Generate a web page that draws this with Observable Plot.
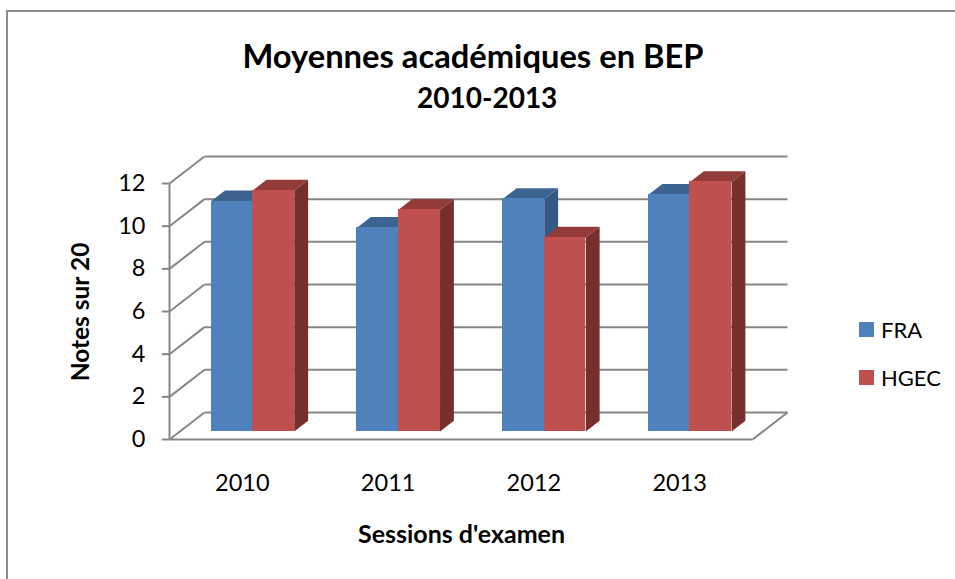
<!DOCTYPE html>
<html lang="fr">
<head>
<meta charset="utf-8">
<script src="https://cdn.jsdelivr.net/npm/d3@7"></script>
<script src="https://cdn.jsdelivr.net/npm/@observablehq/plot@0.6"></script>
<style>
  html, body { margin: 0; padding: 0; background: #fff; }
  body { font-family: Lato, "Open Sans", sans-serif; color: #000; }
  #page { position: relative; width: 955px; height: 579px; overflow: hidden; }
  #frame { position: absolute; left: 6px; top: 10px; right: -5px; bottom: -5px;
           border-left: 2px solid #8c8c8c; border-top: 2px solid #8c8c8c; }
  #head { position: relative; height: 130px; width: 946px; font-weight: 700; }
  #title { position: absolute; left: 0; right: 0; text-align: center; top: 35px; font-size: 32.7px; line-height: 42px; }
  #subtitle { position: absolute; left: 417px; top: 81px; font-size: 28px; line-height: 32px; }
  #legend { position: absolute; left: 859px; top: 316px; font-size: 22px; }
  #legend div { display: flex; align-items: center; height: 26px; margin-bottom: 22px; }
  #legend i { display: block; width: 15px; height: 15px; margin-right: 7px; }
  svg { display: block; position: relative; background: transparent !important; }
</style>
</head>
<body>
<div id="page">
  <div id="frame"></div>
  <div id="head">
    <div id="title">Moyennes académiques en BEP</div>
    <div id="subtitle">2010-2013</div>
  </div>
  <div id="chart"></div>
  <div id="legend"></div>
</div>
<script>
const years = ["2010", "2011", "2012", "2013"];
const FRA = [10.8, 9.55, 10.9, 11.1];
const HGEC = [11.3, 10.4, 9.1, 11.7];
const yTicks = [0, 2, 4, 6, 8, 10, 12];

const BLUE = "#4f81bd", BLUE_TOP = "#3d6491", BLUE_SIDE = "#345a88";
const RED = "#c0504d", RED_TOP = "#933b38", RED_SIDE = "#772f2d";
const GRID = "#868686";

// Oblique projection: depth 0 = front of floor, depth 1 = back wall, in data units.
const DX = 0.24, DY = 1.266;
const nCat = years.length;
const barW = 0.285, dFront = 0.296, dBack = 0.692;

const P = (x, v, d) => ({x: x + d * DX, y: v + d * DY});
const center = i => i + 0.5;

function faces(values, side) {
  const out = {fronts: [], tops: [], sides: []};
  values.forEach((v, i) => {
    const x1 = center(i) + (side === 0 ? -barW : 0);
    const x2 = x1 + barW;
    const a = P(x1, v, dFront), b = P(x2, v, dFront);
    const base = P(x2, 0, dFront), baseBack = P(x2, 0, dBack);
    const c = P(x2, v, dBack), e = P(x1, v, dBack);
    out.fronts.push({x1: a.x, x2: b.x, y1: base.y, y2: a.y});
    [a, b, c, e].forEach(p => out.tops.push({...p, id: i}));
    [b, base, baseBack, c].forEach(p => out.sides.push({...p, id: i}));
  });
  return out;
}

const backLines = yTicks.map(v => ({x1: DX, x2: nCat + DX, y1: v + DY, y2: v + DY}));
const wallLines = yTicks.map(v => ({x1: 0, x2: DX, y1: v, y2: v + DY}));
const frameLines = [
  {x1: 0, x2: 0, y1: 0, y2: 12},
  {x1: 0, x2: nCat, y1: 0, y2: 0},
  {x1: nCat, x2: nCat + DX, y1: 0, y2: DY}
];

const gridOpts = {x1: "x1", x2: "x2", y1: "y1", y2: "y2", stroke: GRID, strokeWidth: 2};

function barMarks(values, side, front, top, sideC) {
  const f = faces(values, side);
  const poly = (data, fill) => Plot.line(data, {x: "x", y: "y", z: "id", fill, stroke: "none"});
  return [
    poly(f.sides, sideC),
    poly(f.tops, top),
    Plot.rect(f.fronts, {x1: "x1", x2: "x2", y1: "y1", y2: "y2", fill: front, shapeRendering: "crispEdges"})
  ];
}

const chart = Plot.plot({
  width: 955,
  height: 449,
  marginLeft: 169,
  marginRight: 168,
  marginTop: 26,
  marginBottom: 140,
  style: {fontFamily: "Lato, 'Open Sans', sans-serif", color: "#000"},
  x: {domain: [0, nCat + DX], label: null},
  y: {domain: [0, 12 + DY], label: null},
  marks: [
    Plot.link(backLines, gridOpts),
    Plot.link(wallLines, gridOpts),
    Plot.link(frameLines, gridOpts),
    Plot.axisY({ticks: yTicks, tickSize: 7, marginLeft: 169, tickPadding: 17, fontSize: 23.5, stroke: GRID, strokeWidth: 2, fill: "#000", label: null, textStroke: "none"}),
    Plot.axisX({ticks: years.map((_, i) => i + 0.5), tickFormat: (d, i) => years[i], tickSize: 0, tickPadding: 35, fontSize: 23.5, fill: "#000", label: null}),
    ...barMarks(FRA, 0, BLUE, BLUE_TOP, BLUE_SIDE),
    ...barMarks(HGEC, 1, RED, RED_TOP, RED_SIDE),
    Plot.text(["Notes sur 20"], {frameAnchor: "left", textAnchor: "middle", rotate: -90, dx: -88, dy: 14, fontSize: 24.5, fontWeight: 700, fill: "#000"}),
    Plot.text(["Sessions d'examen"], {frameAnchor: "bottom", dx: -17, dy: 103, fontSize: 25, fontWeight: 700, fill: "#000"})
  ]
});
document.getElementById("chart").appendChild(chart);

const legend = document.getElementById("legend");
[["FRA", BLUE], ["HGEC", RED]].forEach(([name, color]) => {
  const row = document.createElement("div");
  const sw = document.createElement("i");
  sw.style.background = color;
  row.appendChild(sw);
  row.appendChild(document.createTextNode(name));
  legend.appendChild(row);
});
</script>
</body>
</html>
